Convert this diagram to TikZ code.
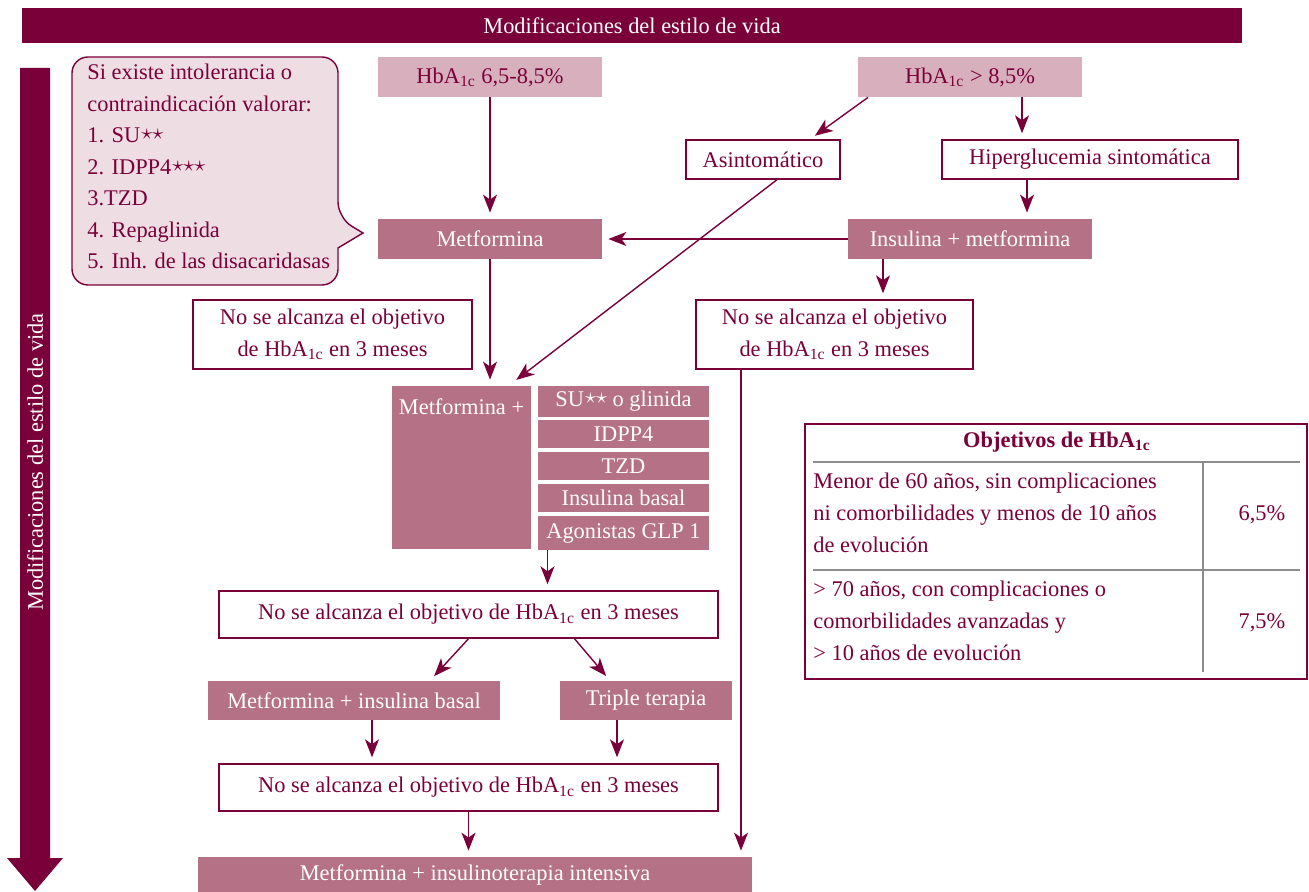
\documentclass[tikz,border=0pt]{standalone}
\usepackage{fontspec}
\setmainfont{Liberation Serif}
\usetikzlibrary{arrows.meta}

\definecolor{vino}{HTML}{7A0039}
\definecolor{malva}{HTML}{B57287}
\definecolor{rosa}{HTML}{D8B0BD}
\definecolor{rosaclaro}{HTML}{EEDDE2}
\definecolor{lineagris}{HTML}{8C8C8C}

\newcommand{\hba}{HbA\textsubscript{1c}}
\newcommand{\est}[1]{\kern.5pt\raisebox{.3ex}{$#1$}}

\tikzset{
  every node/.style={font=\fontsize{11.2}{13}\selectfont},
  caja/.style={draw=vino, line width=0.7pt, fill=white, text=vino, inner sep=0pt, align=center},
  oscura/.style={fill=malva, text=white, inner sep=0pt, align=center},
  clara/.style={fill=rosa, text=vino, inner sep=0pt},
  flecha/.style={draw=vino, line width=0.7pt, -{Stealth[length=9pt,width=7pt,inset=2.5pt]}, shorten >=3pt},
  gris/.style={draw=lineagris, line width=0.7pt},
}

\begin{document}
\begin{tikzpicture}[x=0.5pt, y=-0.5pt]
      \useasboundingbox (0,0) rectangle (1309,892);

      % Lifestyle bars
      \node[fill=vino, text=white, minimum width=610pt, minimum height=17.5pt, inner sep=0pt] (estilo) at (632,25.5) {Modificaciones del estilo de vida};
      \fill[vino] (20,68) -- (50,68) -- (50,858) -- (63,858) -- (35,891) -- (7,858) -- (20,858) -- cycle;
      \node[text=white, rotate=90] (estilov) at (35,462) {Modificaciones del estilo de vida};

      % Callout
      \draw[draw=vino, line width=0.7pt, fill=rosaclaro] (200,57) [rounded corners=8pt] -- (338,57) -- (338,218) [sharp corners] -- (363,233) -- (338,248) [rounded corners=8pt] -- (338,285) -- (72,285) -- (72,57) -- cycle;
      \node[text=vino, anchor=north west, inner sep=0pt, align=left, font=\fontsize{11.2}{15.75}\selectfont] (valorar) at (87,64) {Si existe intolerancia o\\contraindicación valorar:\\1. SU\est{{\star}{\star}}\\2. IDPP4\est{{\star}{\star}{\star}}\\3.TZD\\4. Repaglinida\\5. Inh. de las disacaridasas};

      % Boxes
      \node[clara, minimum width=112pt, minimum height=20pt] (hbaA) at (490,77) {\hba{} 6,5-8,5\%};
      \node[clara, minimum width=112pt, minimum height=20pt] (hbaB) at (970,77) {\hba{} > 8,5\%};
      \node[caja, minimum width=77pt, minimum height=19.5pt] (asint) at (763,159.5) {Asintomático};
      \node[caja, minimum width=148pt, minimum height=19.5pt] (hiper) at (1090,159.5) {Hiperglucemia sintomática};
      \node[oscura, minimum width=112pt, minimum height=20pt] (metf) at (490,239) {Metformina};
      \node[oscura, minimum width=122pt, minimum height=20pt] (insmet) at (970,239) {Insulina + metformina};
      \node[caja, minimum width=139.5pt, minimum height=34.5pt, font=\fontsize{11.2}{16}\selectfont] (nsaL) at (332.5,334.5) {No se alcanza el objetivo\\de \hba{} en 3 meses};
      \node[caja, minimum width=138.5pt, minimum height=34.5pt, font=\fontsize{11.2}{16}\selectfont] (nsaR) at (834.5,334.5) {No se alcanza el objetivo\\de \hba{} en 3 meses};

      \node[oscura, minimum width=69.5pt, minimum height=81.5pt, label={[text=white, anchor=north, yshift=-3pt]north:Metformina +}] (metplus) at (461.5,467.5) {};
      \node[oscura, minimum width=85.5pt, minimum height=15.5pt] (su) at (623.5,401.5) {SU\est{{\star}{\star}} o glinida};
      \node[oscura, minimum width=85.5pt, minimum height=14pt] (idpp) at (623.5,434) {IDPP4};
      \node[oscura, minimum width=85.5pt, minimum height=14pt] (tzd) at (623.5,466) {TZD};
      \node[oscura, minimum width=85.5pt, minimum height=14pt] (insb) at (623.5,498) {Insulina basal};
      \node[oscura, minimum width=85.5pt, minimum height=17pt] (agon) at (623.5,533) {Agonistas GLP 1};

      \node[caja, minimum width=249.5pt, minimum height=23.5pt] (nsa3) at (468.5,614.5) {No se alcanza el objetivo de \hba{} en 3 meses};
      \node[oscura, minimum width=146pt, minimum height=19.5pt] (mib) at (354,700.5) {Metformina + insulina basal};
      \node[oscura, minimum width=86pt, minimum height=19.5pt] (triple) at (646,700.5) {Triple terapia};
      \node[caja, minimum width=249.5pt, minimum height=23.5pt] (nsa4) at (468.5,787.5) {No se alcanza el objetivo de \hba{} en 3 meses};
      \node[oscura, minimum width=277pt, minimum height=17.5pt] (final) at (475,874.5) {Metformina + insulinoterapia intensiva};

      % Arrows
      \draw[flecha] (hbaA) -- (metf);
      \draw[flecha] ([xshift=-51pt]hbaB.south) -- ([xshift=23.5pt]asint.north);
      \draw[flecha] ([xshift=26pt]hbaB.south) -- ([xshift=26pt]hbaB.south |- hiper.north);
      \draw[flecha] ([xshift=-31.5pt]hiper.south) -- ([xshift=-31.5pt]hiper.south |- insmet.north);
      \draw[flecha] (insmet) -- (metf);
      \draw[flecha] ([xshift=-43.5pt]insmet.south) -- ([xshift=-43.5pt]insmet.south |- nsaR.north);
      \draw[flecha] ([xshift=7pt]asint.south) -- ([xshift=25pt,yshift=1pt]metplus.north);
      \draw[flecha] (metf.south) -- (metf.south |- metplus.north);
      \draw[flecha] ([xshift=-46.75pt]nsaR.south) -- ([xshift=-46.75pt]nsaR.south |- final.north);
      \draw[flecha] ([xshift=-38pt]agon.south) -- ([xshift=-38pt]agon.south |- nsa3.north);
      \draw[flecha] (nsa3.south) -- ([xshift=38pt]mib.north);
      \draw[flecha] ([xshift=53pt]nsa3.south) -- ([xshift=-18pt]triple.north);
      \draw[flecha] ([xshift=9pt]mib.south) -- ([xshift=9pt]mib.south |- nsa4.north);
      \draw[flecha] ([xshift=-14.5pt]triple.south) -- ([xshift=-14.5pt]triple.south |- nsa4.north);
      \draw[flecha] (nsa4.south) -- (nsa4.south |- final.north);

      % Objectives table
      \draw[draw=vino, line width=0.7pt] (805,424) rectangle (1307,679);
      \draw[gris] (813,462) -- (1300,462);
      \draw[gris] (813,570) -- (1300,570);
      \draw[gris] (1203,462) -- (1203,672);
      \node[text=vino, font=\fontsize{11.2}{13}\selectfont\bfseries] (objetivos) at (1057,442) {Objetivos de \hba};
      \node[text=vino, anchor=north west, inner sep=0pt, align=left, font=\fontsize{11.2}{16}\selectfont] (fila1) at (813,473) {Menor de 60 años, sin complicaciones\\ni comorbilidades y menos de 10 años\\de evolución};
      \node[text=vino] (valor1) at (1262,515) {6,5\%};
      \node[text=vino, anchor=north west, inner sep=0pt, align=left, font=\fontsize{11.2}{16}\selectfont] (fila2) at (813,581) {> 70 años, con complicaciones o\\comorbilidades avanzadas y\\> 10 años de evolución};
      \node[text=vino] (valor2) at (1262,623) {7,5\%};
    \end{tikzpicture}
\end{document}
